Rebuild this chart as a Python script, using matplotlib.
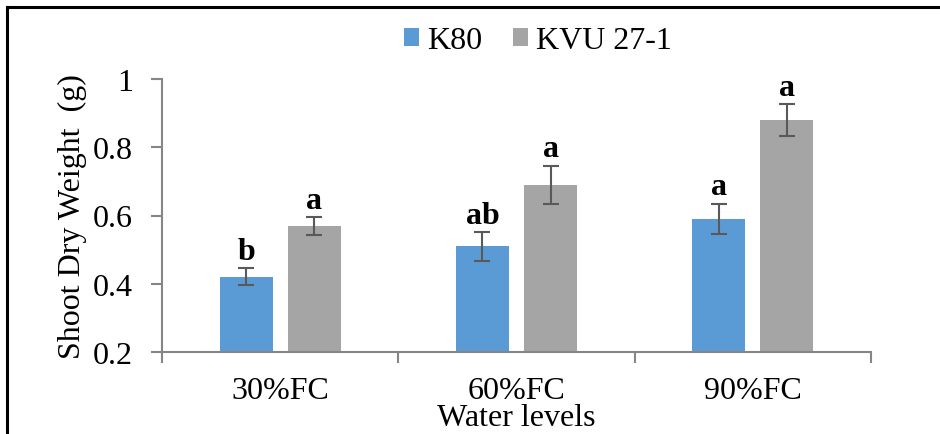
import matplotlib.pyplot as plt
import numpy as np
from matplotlib.lines import Line2D

# data
levels = ["30%FC", "60%FC", "90%FC"]
k80 = [0.42, 0.51, 0.59]
k80_err = [0.025, 0.042, 0.045]
kvu = [0.57, 0.69, 0.88]
kvu_err = [0.026, 0.056, 0.047]
k80_letters = ["b", "ab", "a"]
kvu_letters = ["a", "a", "a"]

BLUE = "#5B9BD5"
GREY = "#A5A5A5"
AXIS = "#868686"
FS = 23

plt.rcParams['font.family'] = ['Liberation Serif', 'DejaVu Serif']

fig = plt.figure(figsize=(9.4, 4.35), dpi=100)
ax = fig.add_axes([162 / 940, 1 - 353 / 435, (871 - 162) / 940, (353 - 80) / 435])

x = np.arange(len(levels))
width = 0.224
off = 0.144

ax.bar(x - off, k80, width, color=BLUE, label="K80", zorder=2)
ax.bar(x + off, kvu, width, color=GREY, label="KVU 27-1", zorder=2)
ax.errorbar(x - off, k80, yerr=k80_err, fmt="none", ecolor="#595959", elinewidth=1.5,
            capsize=6, capthick=1.5, zorder=3)
ax.errorbar(x + off, kvu, yerr=kvu_err, fmt="none", ecolor="#595959", elinewidth=1.5,
            capsize=6, capthick=1.5, zorder=3)

for xi, v, e, t in zip(x - off, k80, k80_err, k80_letters):
    ax.text(xi, v + e + 0.027, t, ha="center", va="baseline", fontsize=FS, fontweight="bold")
for xi, v, e, t in zip(x + off, kvu, kvu_err, kvu_letters):
    ax.text(xi, v + e + 0.027, t, ha="center", va="baseline", fontsize=FS, fontweight="bold")

ax.set_xlim(-0.5, 2.5)
ax.set_ylim(0.2, 1.0)
ax.set_yticks([0.2, 0.4, 0.6, 0.8, 1.0])
ax.set_yticklabels(["0.2", "0.4", "0.6", "0.8", "1"])
ax.set_xticks(x)
ax.set_xticklabels(levels)
ax.set_xticks([-0.5, 0.5, 1.5, 2.5], minor=True)
ax.tick_params(axis="x", which="major", length=0, labelsize=FS, pad=17)
ax.tick_params(axis="x", which="minor", length=8, color=AXIS, width=1.5)
ax.tick_params(axis="y", length=8, color=AXIS, width=1.5, labelsize=FS, pad=13)

for s in ["top", "right"]:
    ax.spines[s].set_visible(False)
for s in ["left", "bottom"]:
    ax.spines[s].set_color(AXIS)
    ax.spines[s].set_linewidth(1.5)

ax.set_xlabel("Water levels", fontsize=FS, labelpad=-1)
ax.set_ylabel("Shoot Dry Weight  (g)", fontsize=FS, labelpad=4)

ax.legend(loc="center", bbox_to_anchor=(0.53, 1 + (80 - 42) / 273), ncol=2, frameon=False,
          fontsize=FS, handlelength=0.47, handleheight=0.47, handletextpad=0.25,
          columnspacing=0.95, borderpad=0)

# outer frame (cut off at right and bottom as in the reference)
fx = 7.5 / 940
fy = 1 - 8 / 435
fig.add_artist(Line2D([fx, fx], [0, fy], color="black", lw=2.2, transform=fig.transFigure))
fig.add_artist(Line2D([fx, 1], [fy, fy], color="black", lw=2.2, transform=fig.transFigure))

fig.savefig("out.png", dpi=100)
